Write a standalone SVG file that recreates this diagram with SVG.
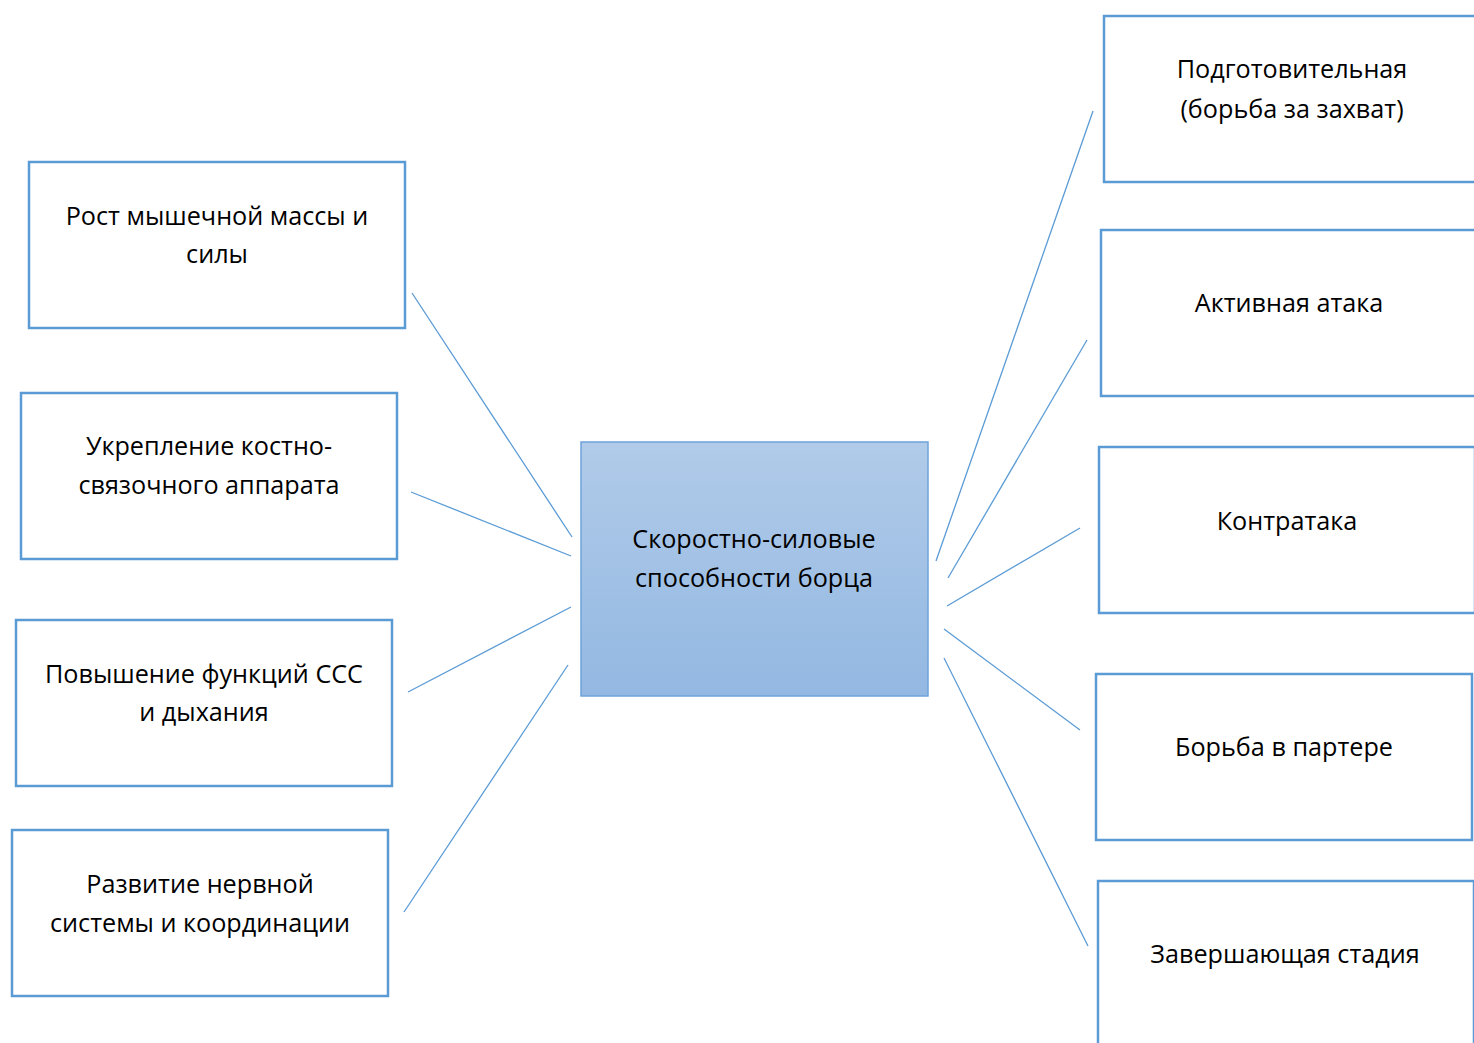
<svg xmlns="http://www.w3.org/2000/svg" width="1474" height="1043" viewBox="0 0 1474 1043">
<defs>
<linearGradient id="g" x1="0" y1="0" x2="0" y2="1">
<stop offset="0" stop-color="#b1cbe9"/>
<stop offset="1" stop-color="#93b8e2"/>
</linearGradient>
<style>
.box{fill:#fff;stroke:#5b9bd5;stroke-width:2.5}
.ctr{fill:url(#g);stroke:#6fa3da;stroke-width:1.5}
.t{font-family:"Open Sans","Noto Sans",sans-serif;font-size:25.2px;fill:#000;text-anchor:middle}
.c line{stroke:#5b9bd5;stroke-width:1.3}
</style>
</defs>
<rect width="1474" height="1043" fill="#fff"/>
<g class="c" id="connectors">
<line x1="412" y1="293" x2="572" y2="537"/>
<line x1="411" y1="492" x2="571" y2="556"/>
<line x1="408" y1="692" x2="571" y2="607"/>
<line x1="404" y1="912" x2="568" y2="665"/>
<line x1="936" y1="561" x2="1093" y2="111"/>
<line x1="948" y1="578" x2="1087" y2="340"/>
<line x1="947" y1="606" x2="1080" y2="528"/>
<line x1="944" y1="629" x2="1080" y2="730"/>
<line x1="944" y1="658" x2="1088" y2="946"/>
</g>
<g id="center">
<rect class="ctr" x="581" y="442" width="347" height="254"/>
<text class="t" x="754" y="548">Скоростно-силовые</text>
<text class="t" x="754" y="587">способности борца</text>
</g>
<g id="l1">
<rect class="box" x="29" y="162" width="376" height="166"/>
<text class="t" x="217" y="225">Рост мышечной массы и</text>
<text class="t" x="217" y="263">силы</text>
</g>
<g id="l2">
<rect class="box" x="21" y="393" width="376" height="166"/>
<text class="t" x="209" y="455">Укрепление костно-</text>
<text class="t" x="209" y="494">связочного аппарата</text>
</g>
<g id="l3">
<rect class="box" x="16" y="620" width="376" height="166"/>
<text class="t" x="204" y="683">Повышение функций ССС</text>
<text class="t" x="204" y="721">и дыхания</text>
</g>
<g id="l4">
<rect class="box" x="12" y="830" width="376" height="166"/>
<text class="t" x="200" y="893">Развитие нервной</text>
<text class="t" x="200" y="932">системы и координации</text>
</g>
<g id="r1">
<rect class="box" x="1104" y="16" width="376" height="166"/>
<text class="t" x="1292" y="78">Подготовительная</text>
<text class="t" x="1292" y="118">(борьба за захват)</text>
</g>
<g id="r2">
<rect class="box" x="1101" y="230" width="376" height="166"/>
<text class="t" x="1289" y="312">Активная атака</text>
</g>
<g id="r3">
<rect class="box" x="1099" y="447" width="376" height="166"/>
<text class="t" x="1287" y="530">Контратака</text>
</g>
<g id="r4">
<rect class="box" x="1096" y="674" width="376" height="166"/>
<text class="t" x="1284" y="756">Борьба в партере</text>
</g>
<g id="r5">
<rect class="box" x="1098" y="881" width="376" height="170"/>
<text class="t" x="1285" y="963">Завершающая стадия</text>
</g>
</svg>
